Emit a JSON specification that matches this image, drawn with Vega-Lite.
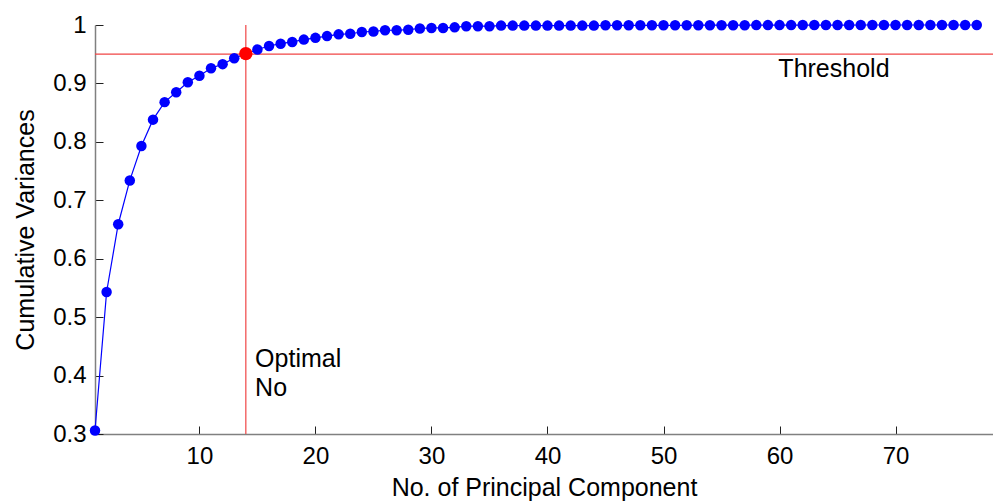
{
  "$schema": "https://vega.github.io/schema/vega-lite/v6.json",
  "width": 898,
  "height": 409,
  "autosize": "none",
  "padding": {"left": 95, "top": 25, "right": 0, "bottom": 68},
  "background": "white",
  "config": {
    "view": {"stroke": null},
    "font": "Liberation Sans",
    "axis": {
      "grid": false,
      "domainColor": "#808080",
      "domainWidth": 1.5,
      "tickColor": "#202020",
      "tickSize": -8,
      "tickWidth": 1,
      "labelFont": "Liberation Sans",
      "labelFontSize": 24,
      "labelColor": "black",
      "titleFont": "Liberation Sans",
      "titleFontSize": 25,
      "titleFontWeight": "normal",
      "titleColor": "black",
      "labelOverlap": false
    }
  },
  "datasets": {
    "cum": [
      {"pc": 1, "v": 0.306}, {"pc": 2, "v": 0.543}, {"pc": 3, "v": 0.659}, {"pc": 4, "v": 0.734},
      {"pc": 5, "v": 0.793}, {"pc": 6, "v": 0.838}, {"pc": 7, "v": 0.868}, {"pc": 8, "v": 0.885},
      {"pc": 9, "v": 0.902}, {"pc": 10, "v": 0.913}, {"pc": 11, "v": 0.926}, {"pc": 12, "v": 0.933},
      {"pc": 13, "v": 0.943}, {"pc": 14, "v": 0.951}, {"pc": 15, "v": 0.958}, {"pc": 16, "v": 0.964},
      {"pc": 17, "v": 0.968}, {"pc": 18, "v": 0.971}, {"pc": 19, "v": 0.975}, {"pc": 20, "v": 0.978},
      {"pc": 21, "v": 0.981}, {"pc": 22, "v": 0.984}, {"pc": 23, "v": 0.985}, {"pc": 24, "v": 0.988},
      {"pc": 25, "v": 0.989}, {"pc": 26, "v": 0.991}, {"pc": 27, "v": 0.991}, {"pc": 28, "v": 0.992},
      {"pc": 29, "v": 0.994}, {"pc": 30, "v": 0.995}, {"pc": 31, "v": 0.995}, {"pc": 32, "v": 0.996},
      {"pc": 33, "v": 0.998}, {"pc": 34, "v": 0.998}, {"pc": 35, "v": 0.998}, {"pc": 36, "v": 0.999},
      {"pc": 37, "v": 0.999}, {"pc": 38, "v": 0.999}, {"pc": 39, "v": 0.999}, {"pc": 40, "v": 0.999},
      {"pc": 41, "v": 0.999}, {"pc": 42, "v": 0.999}, {"pc": 43, "v": 0.999}, {"pc": 44, "v": 0.999},
      {"pc": 45, "v": 0.9995}, {"pc": 46, "v": 0.9995}, {"pc": 47, "v": 0.9995}, {"pc": 48, "v": 0.9995},
      {"pc": 49, "v": 0.9995}, {"pc": 50, "v": 0.9995}, {"pc": 51, "v": 0.9995}, {"pc": 52, "v": 0.9995},
      {"pc": 53, "v": 0.9997}, {"pc": 54, "v": 0.9997}, {"pc": 55, "v": 0.9997}, {"pc": 56, "v": 0.9997},
      {"pc": 57, "v": 0.9997}, {"pc": 58, "v": 0.9998}, {"pc": 59, "v": 0.9998}, {"pc": 60, "v": 0.9998},
      {"pc": 61, "v": 0.9998}, {"pc": 62, "v": 0.9999}, {"pc": 63, "v": 0.9999}, {"pc": 64, "v": 0.9999},
      {"pc": 65, "v": 0.9999}, {"pc": 66, "v": 0.9999}, {"pc": 67, "v": 1.0}, {"pc": 68, "v": 1.0},
      {"pc": 69, "v": 1.0}, {"pc": 70, "v": 1.0}, {"pc": 71, "v": 1.0}, {"pc": 72, "v": 1.0},
      {"pc": 73, "v": 1.0}, {"pc": 74, "v": 1.0}, {"pc": 75, "v": 1.0}, {"pc": 76, "v": 1.0},
      {"pc": 77, "v": 1.0}
    ],
    "labels": [
      {"pc": 59.9, "v": 0.9246, "t": "Threshold"},
      {"pc": 14.8, "v": 0.429, "t": "Optimal"},
      {"pc": 14.8, "v": 0.378, "t": "No"}
    ],
    "threshold": [{"v": 0.95}],
    "optimal": [{"pc": 14, "v": 0.951}]
  },
  "layer": [
    {
      "data": {"name": "cum"},
      "mark": {"type": "line", "color": "#0000ff", "strokeWidth": 1.2},
      "encoding": {
        "x": {
          "field": "pc", "type": "quantitative",
          "scale": {"domain": [1, 78.4], "nice": false, "zero": false},
          "axis": {"values": [10, 20, 30, 40, 50, 60, 70], "title": "No. of Principal Component", "labelPadding": 18, "titlePadding": 7}
        },
        "y": {
          "field": "v", "type": "quantitative",
          "scale": {"domain": [0.3, 1], "nice": false, "zero": false},
          "axis": {"values": [0.3, 0.4, 0.5, 0.6, 0.7, 0.8, 0.9, 1], "format": ".1~f", "title": "Cumulative Variances", "labelPadding": 17, "titlePadding": 14}
        }
      }
    },
    {
      "data": {"name": "threshold"},
      "mark": {"type": "rule", "color": "#f04545", "strokeWidth": 1.2},
      "encoding": {"y": {"field": "v", "type": "quantitative"}}
    },
    {
      "data": {"name": "optimal"},
      "mark": {"type": "rule", "color": "#f04545", "strokeWidth": 1.2},
      "encoding": {"x": {"field": "pc", "type": "quantitative"}}
    },
    {
      "data": {"name": "cum"},
      "mark": {"type": "point", "filled": true, "color": "#0000ff", "opacity": 1, "size": 110},
      "encoding": {
        "x": {"field": "pc", "type": "quantitative"},
        "y": {"field": "v", "type": "quantitative"}
      }
    },
    {
      "data": {"name": "optimal"},
      "mark": {"type": "point", "filled": true, "color": "#ff0000", "opacity": 1, "size": 180},
      "encoding": {
        "x": {"field": "pc", "type": "quantitative"},
        "y": {"field": "v", "type": "quantitative"}
      }
    },
    {
      "data": {"name": "labels"},
      "mark": {"type": "text", "align": "left", "baseline": "middle", "fontSize": 25, "font": "Liberation Sans", "color": "black"},
      "encoding": {
        "x": {"field": "pc", "type": "quantitative"},
        "y": {"field": "v", "type": "quantitative"},
        "text": {"field": "t"}
      }
    }
  ]
}
